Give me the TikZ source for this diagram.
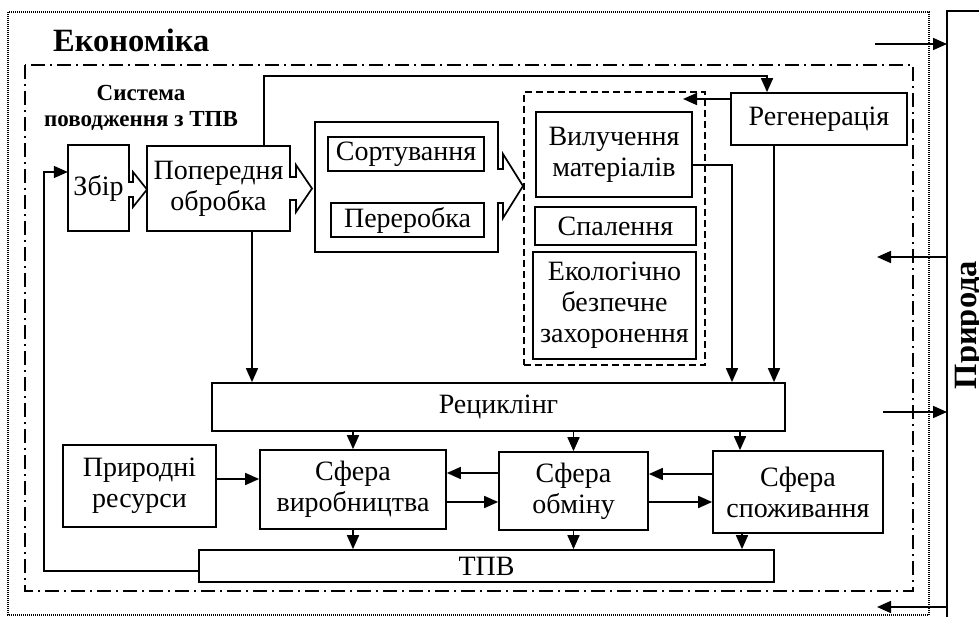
\documentclass[tikz,border=0pt]{standalone}
\usepackage{fontspec}
\setmainfont{Liberation Serif}
\usetikzlibrary{arrows.meta}
\newcommand\bodyfs{\fontsize{28}{31}\selectfont}
\newcommand\titlefs{\fontsize{32.5}{36}\selectfont\bfseries}
\newcommand\sysfs{\fontsize{23}{26}\selectfont\bfseries}
\begin{document}
\begin{tikzpicture}[x=1pt,y=-1pt,
  box/.style={draw, line width=1.7pt, inner sep=0pt, align=center, font=\bodyfs},
  plainbox/.style={inner sep=0pt, align=center, font=\bodyfs},
  outline/.style={line width=1.7pt, line join=miter},
  dashbox/.style={draw, line width=1.4pt, dash pattern=on 7pt off 4pt, inner sep=0pt},
  arr/.style={line width=1.7pt, -{Triangle[length=14pt,width=12pt]}},
  conn/.style={line width=1.7pt}]
\useasboundingbox (0,0) rectangle (979,617);
\clip (0,0) rectangle (979,617);

% frames
\draw[line width=1.2pt, dash pattern=on 1pt off 1pt] (8,12) rectangle (929,615);
\draw[line width=1.4pt, dash pattern=on 14pt off 5pt on 2pt off 5pt] (25,65) rectangle (913,591);
\draw[conn] (990,11) -- (947,11) -- (947,630);

% titles
\node[anchor=base west, font=\titlefs, inner sep=0pt] (econ) at (53,52) {Економіка};
\node[align=center, font=\sysfs, inner sep=0pt] (sys) at (141,108) {Система\\поводження з ТПВ};
\node[rotate=90, anchor=base, font=\titlefs, inner sep=0pt] (pryroda) at (976,325) {Природа};

% boxes with hollow arrows
\node[plainbox, minimum width=61pt, minimum height=86pt] (zbir) at (98.5,188) {Збір};
\draw[outline] (129,182) -- (129,145) -- (68,145) -- (68,231) -- (129,231) -- (129,197)
  -- (133,197) -- (133,207) -- (147,189.5) -- (133,172) -- (133,182) -- cycle;
\node[plainbox, minimum width=143pt, minimum height=85pt] (pop) at (218.5,188.5) {Попередня\\обробка};
\draw[outline] (290,177) -- (290,146) -- (147,146) -- (147,231) -- (290,231) -- (290,200)
  -- (296,200) -- (296,212) -- (312,188.5) -- (296,165) -- (296,177) -- cycle;
\node[plainbox, minimum width=183pt, minimum height=130pt] (cont) at (406.5,187) {};
\draw[outline] (498,169) -- (498,122) -- (315,122) -- (315,252) -- (498,252) -- (498,203)
  -- (503,203) -- (503,218) -- (523,186) -- (503,154) -- (503,169) -- cycle;
\node[box, minimum width=156pt, minimum height=34pt] (sort) at (406,154) {Сортування};
\node[box, minimum width=153pt, minimum height=34pt] (perer) at (407.5,220) {Переробка};

% dashed group
\node[dashbox, minimum width=181pt, minimum height=273pt] (grp) at (614.5,228.5) {};
\node[box, minimum width=156pt, minimum height=85pt] (vyluch) at (614,154.5) {Вилучення\\матеріалів};
\node[box, minimum width=161pt, minimum height=38pt] (spal) at (615.5,226) {Спалення};
\node[box, minimum width=163pt, minimum height=107pt] (ekol) at (614.5,305.5) {Екологічно\\безпечне\\захоронення};

\node[box, minimum width=176pt, minimum height=52pt] (regen) at (819,119) {Регенерація};
\node[box, minimum width=573pt, minimum height=48pt] (recycl) at (498.5,407) {Рециклінг};
\node[box, minimum width=153pt, minimum height=82pt] (pryr) at (139.5,486) {Природні\\ресурси};
\node[box, minimum width=186pt, minimum height=79pt] (vyrob) at (353,489.5) {Сфера\\виробництва};
\node[box, minimum width=149pt, minimum height=78pt] (obmin) at (573.5,491) {Сфера\\обміну};
\node[box, minimum width=170pt, minimum height=82pt] (spozh) at (798,492) {Сфера\\споживання};
\node[box, minimum width=575pt, minimum height=32pt] (tpv) at (486.5,566) {ТПВ};

% helper coordinates
\coordinate (t1) at (264,76);
\coordinate (r2) at (683,99);
\coordinate (l2) at (44,172);
\coordinate (pA) at (947,44);  \coordinate (fA) at (875,44);
\coordinate (pB) at (947,257); \coordinate (fB) at (877,257);
\coordinate (pC) at (947,412); \coordinate (fC) at (883,412);
\coordinate (pD) at (947,607); \coordinate (fD) at (877,607);

% connectors
\draw[arr] ([xshift=45.5pt]pop.north) -- (t1) -| ([xshift=-52pt]regen.north);
\draw[arr] ([yshift=20pt]regen.west) -- (r2);
\draw[arr] ([yshift=-10.5pt]vyluch.east) -| ([xshift=233.5pt]recycl.north);
\draw[arr] ([xshift=-45pt]regen.south) -- ([xshift=275.5pt]recycl.north);
\draw[arr] ([xshift=33.5pt]pop.south) -- ([xshift=-246.5pt]recycl.north);

\draw[arr] (vyrob.north |- recycl.south) -- (vyrob.north);
\draw[arr] (obmin.north |- recycl.south) -- (obmin.north);
\draw[arr] ([xshift=241.5pt]recycl.south) -- ([xshift=-58pt]spozh.north);

\draw[arr] ([yshift=7pt]pryr.east) -- ([yshift=10.5pt]vyrob.west);
\draw[arr] ([yshift=18pt]obmin.west) -- ([yshift=16.5pt]vyrob.east);
\draw[arr] ([yshift=-12.5pt]vyrob.east) -- ([yshift=-11pt]obmin.west);
\draw[arr] ([yshift=18pt]spozh.west) -- ([yshift=17pt]obmin.east);
\draw[arr] ([yshift=-11pt]obmin.east) -- ([yshift=-10pt]spozh.west);

\draw[arr] (vyrob.south) -- (vyrob.south |- tpv.north);
\draw[arr] (obmin.south) -- (obmin.south |- tpv.north);
\draw[arr] ([xshift=-56pt]spozh.south) -- ([xshift=255.5pt]tpv.north);

\draw[arr] ([yshift=-5pt]tpv.west) -| (l2) -- ([yshift=16pt]zbir.west);

\draw[arr] (fA) -- (pA);
\draw[arr] (pB) -- (fB);
\draw[arr] (fC) -- (pC);
\draw[arr] (pD) -- (fD);
\end{tikzpicture}
\end{document}
